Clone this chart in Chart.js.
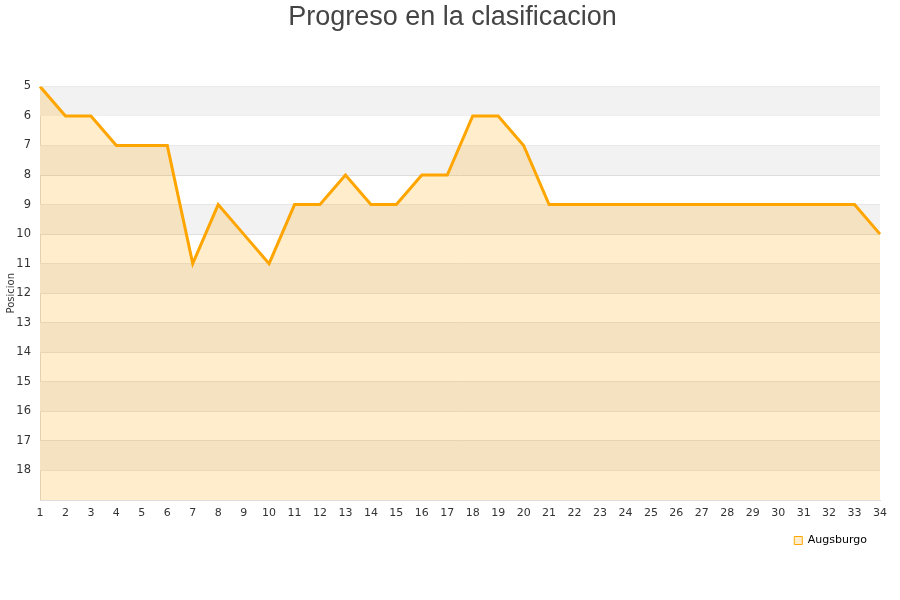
<!DOCTYPE html>
<html lang="es">
<head>
    <meta charset="UTF-8">
    <title>Progreso en la clasificacion</title>
    <script src="https://cdn.jsdelivr.net/npm/chart.js@4.4.0/dist/chart.umd.min.js"></script>
    <style>
        body { margin: 0; background: #fff; }
        #wrap { width: 900px; height: 600px; }
    </style>
</head>
<body>
    <div id="wrap"><canvas id="rankChart" width="900" height="600"></canvas></div>

    <script>
        // Datos
        const jornadas = ['1','2','3','4','5','6','7','8','9','10','11','12','13','14','15','16','17',
                          '18','19','20','21','22','23','24','25','26','27','28','29','30','31','32','33','34'];
        const posiciones = [5, 6, 6, 7, 7, 7, 11, 9, 10, 11, 9, 9, 8, 9, 9, 8, 8,
                            6, 6, 7, 9, 9, 9, 9, 9, 9, 9, 9, 9, 9, 9, 9, 9, 10];
        const equipo = 'Augsburgo';
        const posMin = 5;
        const posMax = 19;

        // franjas grises alternas
        const bandas = {
            id: 'bandas',
            beforeDatasetsDraw(chart) {
                const { ctx, chartArea, scales } = chart;
                ctx.save();
                ctx.fillStyle = '#f2f2f2';
                for (let v = posMin; v < posMax; v += 2) {
                    const y1 = scales.y.getPixelForValue(v);
                    const y2 = scales.y.getPixelForValue(v + 1);
                    ctx.fillRect(chartArea.left, y1, chartArea.right - chartArea.left, y2 - y1);
                }
                ctx.restore();
            }
        };

        const ctx = document.getElementById('rankChart').getContext('2d');
        new Chart(ctx, {
            type: 'line',
            data: {
                labels: jornadas,
                datasets: [{
                    label: equipo,
                    data: posiciones,
                    borderColor: '#ffa500',
                    backgroundColor: 'rgba(255,165,0,0.2)',
                    borderWidth: 3,
                    pointRadius: 0,
                    tension: 0,
                    fill: { value: posMax }
                }]
            },
            options: {
                responsive: false,
                animation: false,
                layout: { padding: { left: 5, right: 0, top: 1, bottom: 44 } },
                plugins: {
                    title: {
                        display: true,
                        text: 'Progreso en la clasificacion',
                        color: '#444',
                        font: { family: 'Liberation Sans', size: 27, weight: 'normal' },
                        padding: { top: 0, bottom: 53 }
                    },
                    legend: {
                        position: 'bottom',
                        align: 'end',
                        fullSize: false,
                        labels: {
                            color: '#222',
                            font: { family: 'DejaVu Sans', size: 11 },
                            boxWidth: 8,
                            boxHeight: 8,
                            padding: 13,
                            generateLabels: chart => [{
                                text: equipo,
                                fillStyle: 'rgba(255,165,0,0.2)',
                                strokeStyle: '#ffa500',
                                lineWidth: 1,
                                datasetIndex: 0
                            }]
                        }
                    },
                    tooltip: { enabled: false }
                },
                scales: {
                    x: {
                        grid: { display: false, drawTicks: false },
                        border: { color: '#ddd' },
                        afterFit: s => { s.paddingRight = 20; s.height = 22; },
                        ticks: {
                            color: '#333',
                            padding: 7,
                            font: { family: 'DejaVu Sans', size: 11 },
                            maxRotation: 0,
                            autoSkip: false
                        }
                    },
                    y: {
                        reverse: true,
                        min: posMin,
                        max: posMax,
                        grid: { color: '#dddddd', drawTicks: false },
                        border: { color: '#ddd' },
                        afterFit: s => { s.width = 35; },
                        title: {
                            display: true,
                            text: 'Posicion',
                            color: '#333',
                            font: { family: 'DejaVu Sans', size: 10 },
                            padding: { top: 0, bottom: 4 }
                        },
                        ticks: {
                            stepSize: 1,
                            color: '#333',
                            padding: 9,
                            font: { family: 'DejaVu Sans', size: 11.5 },
                            callback: v => (v === posMax ? '' : v)
                        }
                    }
                }
            },
            plugins: [bandas]
        });
    </script>
</body>
</html>
